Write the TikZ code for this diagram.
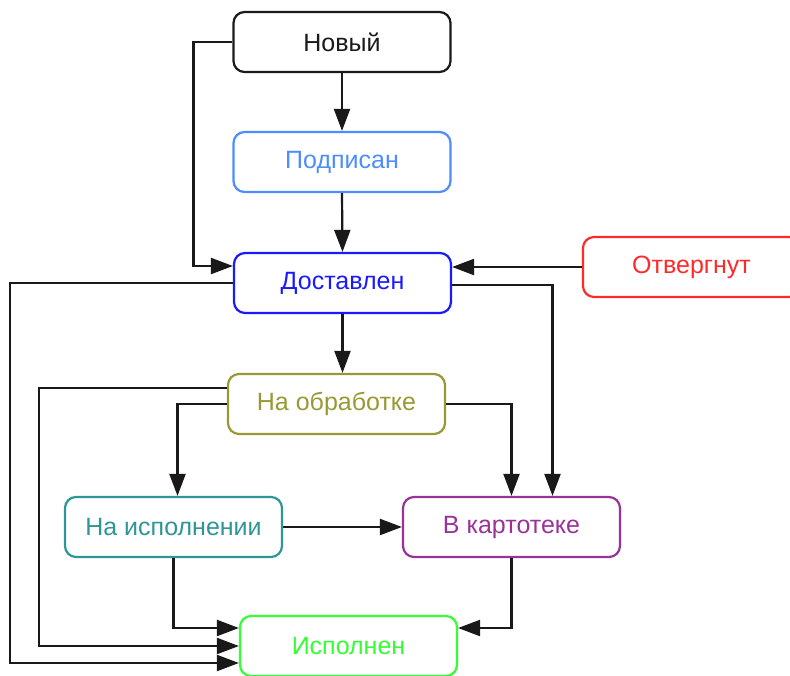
\documentclass[tikz,border=0pt]{standalone}
\usepackage{fontspec}
\setmainfont{Liberation Sans}
\usepackage{tikz}
\usetikzlibrary{arrows.meta, positioning, calc}

\definecolor{cNew}{HTML}{1A1A1A}
\definecolor{cSigned}{HTML}{4D8DFF}
\definecolor{cDelivered}{HTML}{1A1AFF}
\definecolor{cRejected}{HTML}{FF2A2A}
\definecolor{cProcess}{HTML}{999933}
\definecolor{cExec}{HTML}{2E9696}
\definecolor{cFile}{HTML}{993399}
\definecolor{cDone}{HTML}{33FF33}

\begin{document}
\begin{tikzpicture}[
    x=1pt, y=-1pt,
    font=\fontsize{25}{29}\selectfont,
    >={Triangle[length=22pt, width=16pt]},
    state/.style={draw, line width=2.2pt, fill=white, rounded corners=11pt, align=center, minimum height=60pt, minimum width=217pt, inner sep=0pt},
    arrow/.style={->, line width=2.2pt, black!90}
]
\useasboundingbox (0,0) rectangle (790,675);

% STATES
\node[state, draw=cNew, text=cNew] (novyi) at (342,42) {Новый};
\node[state, draw=cSigned, text=cSigned] (podpisan) at (342,162) {Подписан};
\node[state, draw=cDelivered, text=cDelivered] (dostavlen) at (342.5,283) {Доставлен};
\node[state, draw=cRejected, text=cRejected] (otvergnut) at (691.5,267) {Отвергнут};
\node[state, draw=cProcess, text=cProcess] (obrabotka) at (336.5,404) {На обработке};
\node[state, draw=cExec, text=cExec] (ispolnenie) at (173.5,527) {На исполнении};
\node[state, draw=cFile, text=cFile] (kartoteka) at (511.5,527) {В картотеке};
\node[state, draw=cDone, text=cDone] (ispolnen) at (348.5,646) {Исполнен};

% ARROWS - TOP
\draw[arrow] (novyi.west) -- ++(-39,0) |- ([yshift=17pt]dostavlen.west);
\draw[arrow] (novyi.south) -- (podpisan.north);
\draw[arrow] (podpisan.south) -- (dostavlen.north);
\draw[arrow] (otvergnut.west) -- (otvergnut.west -| dostavlen.east);

% ARROWS - FROM DOSTAVLEN
\draw[arrow] (dostavlen.west) -- ++(-223,0) |- ([yshift=-17pt]ispolnen.west);
\draw[arrow] ([yshift=-2pt]dostavlen.east) -| ([xshift=41pt]kartoteka.north);
\draw[arrow] (dostavlen.south) -- (dostavlen.south |- obrabotka.north);

% ARROWS - FROM OBRABOTKA
\draw[arrow] ([yshift=16pt]obrabotka.west) -- ++(-188,0) |- (ispolnen.west);
\draw[arrow] (obrabotka.west) -| ([xshift=4pt]ispolnenie.north);
\draw[arrow] (obrabotka.east) -| (kartoteka.north);

% ARROWS - BOTTOM
\draw[arrow] (ispolnenie.east) -- (kartoteka.west);
\draw[arrow] (ispolnenie.south) |- ([yshift=18pt]ispolnen.west);
\draw[arrow] (kartoteka.south) |- ([yshift=18pt]ispolnen.east);

\end{tikzpicture}
\end{document}
